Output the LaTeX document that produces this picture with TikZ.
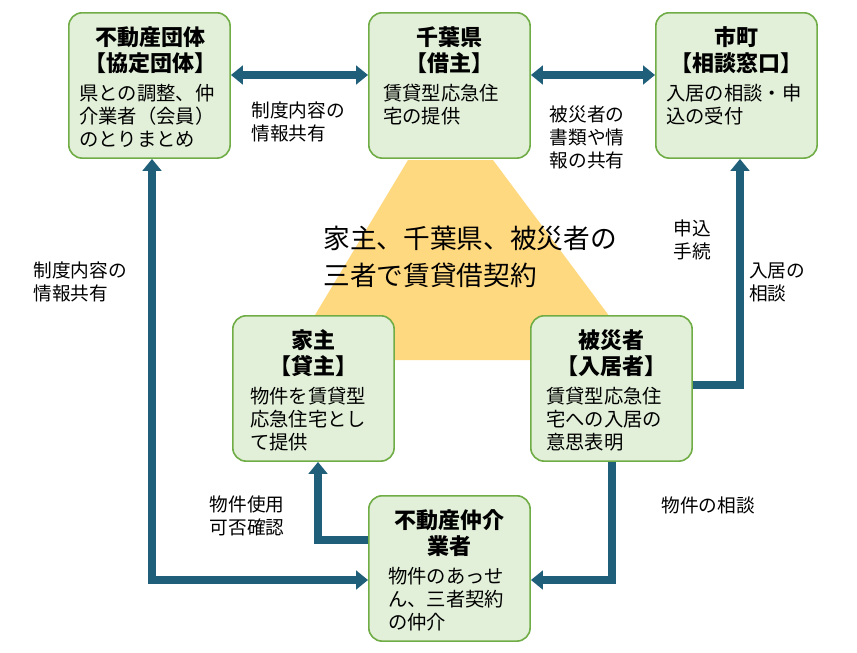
\documentclass[tikz,border=0pt]{standalone}
\usepackage{fontspec}
\setmainfont{Noto Sans CJK JP}
\usetikzlibrary{arrows.meta}
\definecolor{bx}{HTML}{E2F0D9}
\definecolor{bd}{HTML}{70AD47}
\definecolor{ar}{HTML}{1F5F7A}
\definecolor{tri}{HTML}{FFD980}
\begin{document}
\begin{tikzpicture}[x=0.75pt,y=-0.75pt,
  box/.style={draw=bd,line width=1.2pt,fill=bx,rounded corners=10pt,minimum width=121pt,minimum height=109pt,anchor=north west,inner sep=0pt},
  ttl/.style={anchor=north,align=center,font=\fontsize{16.5}{20}\selectfont\bfseries,inner sep=0pt},
  bdy/.style={anchor=north west,align=left,font=\fontsize{14.5}{17.25}\selectfont,inner sep=0pt},
  lbl/.style={font=\fontsize{14}{17.25}\selectfont,align=left},
  arr/.style={draw=ar,line width=5.5pt,-{Triangle[length=9pt,width=14pt]}},
  darr/.style={draw=ar,line width=5.5pt,{Triangle[length=9pt,width=14pt]}-{Triangle[length=9pt,width=14pt]}}]
\useasboundingbox (0,0) rectangle (857,653);
\fill[tri] (408,160) -- (493,160) -- (642,360) -- (288,360) -- cycle;
\node[box] (dt) at (68,12) {};
\node[ttl] (dt1) at (150,26) {不動産団体\\【協定団体】};
\node[bdy] (dt2) at (79,84) {県との調整、仲\\介業者（会員）\\のとりまとめ};
\node[box] (cb) at (368,12) {};
\node[ttl] (cb1) at (449,26) {千葉県\\【借主】};
\node[bdy] (cb2) at (383,84) {賃貸型応急住\\宅の提供};
\node[box] (sm) at (655,12) {};
\node[ttl] (sm1) at (736,26) {市町\\【相談窓口】};
\node[bdy] (sm2) at (666,84) {入居の相談・申\\込の受付};
\node[box] (ya) at (232,315) {};
\node[ttl] (ya1) at (313,329) {家主\\【貸主】};
\node[bdy] (ya2) at (250,387) {物件を賃貸型\\応急住宅とし\\て提供};
\node[box] (hs) at (530,315) {};
\node[ttl] (hs1) at (611,329) {被災者\\【入居者】};
\node[bdy] (hs2) at (546,387) {賃貸型応急住\\宅への入居の\\意思表明};
\node[box] (ch) at (368,495) {};
\node[ttl] (ch1) at (449,509) {不動産仲介\\業者};
\node[bdy] (ch2) at (388,567) {物件のあっせ\\ん、三者契約\\の仲介};
\node[align=left,font=\fontsize{20}{28}\selectfont] (tt) at (470,257) {家主、千葉県、被災者の\\三者で賃貸借契約};
\draw[darr] (dt.east|-0,75) -- (cb.west|-0,75);
\draw[darr] (cb.east|-0,75) -- (sm.west|-0,75);
\draw[darr] (dt.south-|152,0) -- (152,580) -- (ch.west|-0,580);
\draw[arr] (ch.west|-0,540) -- (318,540) -- (ya.south-|318,0);
\draw[arr] (hs.south-|612,0) -- (612,580) -- (ch.east|-0,580);
\draw[arr] (hs.east|-0,385) -- (740,385) -- (sm.south-|740,0);
\node[lbl] (l1) at (298,122) {制度内容の\\情報共有};
\node[lbl] (l2) at (587,137) {被災者の\\書類や情\\報の共有};
\node[lbl] (l3) at (80,282) {制度内容の\\情報共有};
\node[lbl] (l4) at (692,240) {申込\\手続};
\node[lbl] (l5) at (777,282) {入居の\\相談};
\node[lbl] (l6) at (247,516) {物件使用\\可否確認};
\node[lbl] (l7) at (708,505) {物件の相談};
\end{tikzpicture}
\end{document}
